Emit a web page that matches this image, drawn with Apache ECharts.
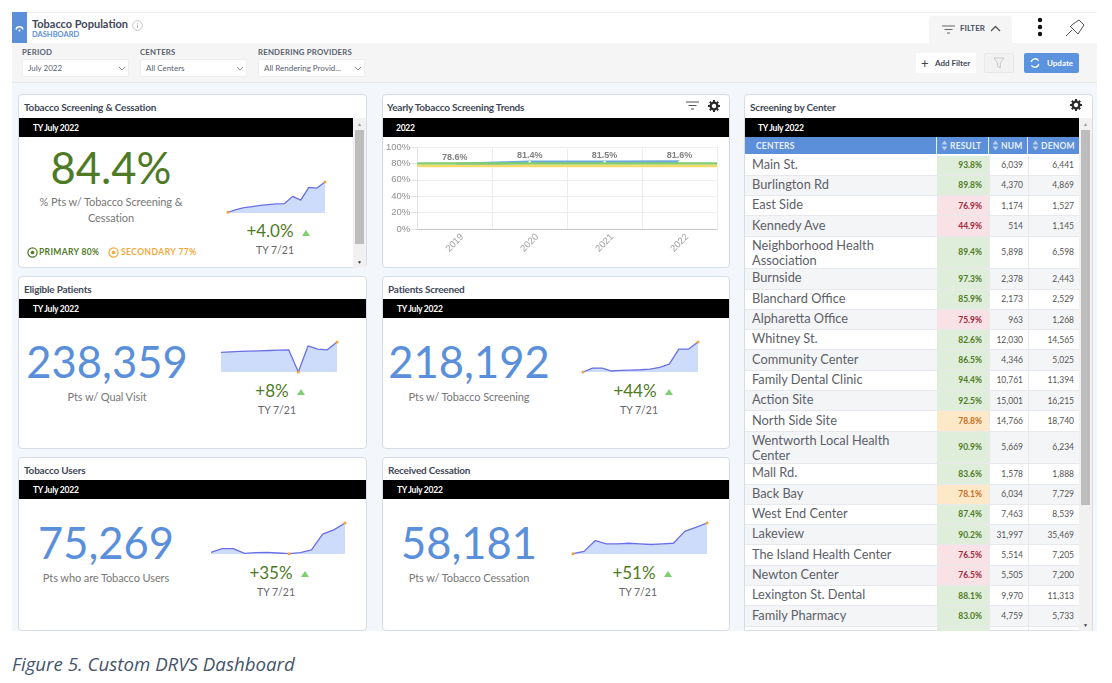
<!DOCTYPE html>
<html>
<head>
<meta charset="utf-8">
<title>Custom DRVS Dashboard</title>
<script src="https://cdn.jsdelivr.net/npm/echarts@6/dist/echarts.min.js"></script>
<style>
html, body { margin: 0; padding: 0; background: #fff; }
#page { position: relative; width: 1112px; height: 683px; overflow: hidden; font-family: Lato, "Open Sans", sans-serif; color: #555; }
#page div, #page svg { position: absolute; box-sizing: border-box; }
.txt { white-space: nowrap; line-height: 1; }
.mid { transform: translate(-50%, -50%); }
.lft { transform: translateY(-50%); }
.rgt { transform: translate(-100%, -50%); }
.panel { background: #fff; border: 1px solid #d6dde7; border-radius: 4px; }
.black { background: #000; }
.ptitle { font-size: 10px; font-weight: 700; color: #3f4858; letter-spacing: -.2px; }
.bartxt { font-size: 8.5px; font-weight: 700; color: #fff; letter-spacing: -.25px; }
.flabel { font-size: 7.8px; font-weight: 700; color: #596270; letter-spacing: .2px; }
.sel { background: #fff; border-radius: 2px; height: 18px; border: 1px solid #eceef0; }
.seltxt { font-size: 8px; color: #596270; }
.big { font-size: 43.5px; }
.sub { font-size: 11px; color: #777; letter-spacing: -.1px; }
.chg { font-size: 17px; color: #4f7a25; }
.ty { font-size: 10.5px; color: #666; }
.tri { width: 0; height: 0; border-left: 4px solid transparent; border-right: 4px solid transparent; border-bottom: 6px solid #7fcf70; }
.btn { border-radius: 2px; height: 20px; }
#rows .row { position: relative !important; display: flex; width: 334px; min-height: 20.3px; border-bottom: 1px solid #e7e9ed; }
#rows .row div { position: static !important; }
#rows .row:nth-child(even) { background: #f4f5f7; }
.cname { width: 192px; padding: 1.2px 30px 0 7px; font-size: 12.8px; line-height: 15.2px; color: #5c6068; }
.cres, .cnum, .cden { display: flex; align-items: center; justify-content: flex-end; font-size: 8.5px; color: #555; }
.cres { width: 52px; padding-right: 7px; font-weight: 700; }
.cnum { width: 39px; padding-right: 5px; border-left: 1px solid #e7e9ed; }
.cden { width: 51px; padding-right: 5px; border-left: 1px solid #e7e9ed; }
.good { background: #dfeeda; color: #4f7a25; }
.warn { background: #fde8c8; color: #c66f24; }
.bad { background: #f8e2e5; color: #a3283a; }
.th { font-size: 8.5px; font-weight: 700; color: #e8f0fb; letter-spacing: .2px; }
.caption { font-family: "Open Sans", sans-serif; font-style: italic; font-size: 18.7px; color: #44546a; }
</style>
</head>
<body>
<div id="page"></div>
<script>
// values
var trendYears = ["2019", "2020", "2021", "2022"];
var trendValues = [78.6, 81.4, 81.5, 81.6];
var primaryGoal = 80;
var secondaryGoal = 77;
var yTicks = [0, 20, 40, 60, 80, 100];

var kpiTitles = ["Tobacco Screening & Cessation", "Eligible Patients", "Patients Screened", "Tobacco Users", "Received Cessation"];
var kpiValues = ["84.4%", "238,359", "218,192", "75,269", "58,181"];
var kpiLabels = ["% Pts w/ Tobacco Screening &\nCessation", "Pts w/ Qual Visit", "Pts w/ Tobacco Screening", "Pts who are Tobacco Users", "Pts w/ Tobacco Cessation"];
var kpiChanges = ["+4.0%", "+8%", "+44%", "+35%", "+51%"];

var sparkScreening = [80.4, 80.75, 81.0, 81.15, 81.3, 81.4, 81.5, 81.55, 82.5, 82.0, 83.7, 83.6, 84.4];
var sparkEligible = [220700, 221800, 222350, 222900, 223450, 224000, 224550, 225100, 187600, 231700, 226200, 225100, 238359];
var sparkScreened = [151500, 160200, 160200, 153700, 155100, 155800, 156500, 158000, 161600, 168800, 202200, 202200, 218192];
var sparkUsers = [55750, 58200, 58200, 55100, 55500, 55750, 55300, 54850, 55500, 57300, 67800, 70700, 75269];
var sparkCessation = [38530, 40000, 46900, 44800, 44800, 45200, 44800, 44400, 44800, 45200, 52800, 55400, 58181];
var sparkFloors = [80.3, 187600, 151500, 54630, 38300];

var centers = ["Main St.", "Burlington Rd", "East Side", "Kennedy Ave", "Neighborhood Health Association", "Burnside", "Blanchard Office", "Alpharetta Office", "Whitney St.", "Community Center", "Family Dental Clinic", "Action Site", "North Side Site", "Wentworth Local Health Center", "Mall Rd.", "Back Bay", "West End Center", "Lakeview", "The Island Health Center", "Newton Center", "Lexington St. Dental", "Family Pharmacy"];
var results = ["93.8%", "89.8%", "76.9%", "44.9%", "89.4%", "97.3%", "85.9%", "75.9%", "82.6%", "86.5%", "94.4%", "92.5%", "78.8%", "90.9%", "83.6%", "78.1%", "87.4%", "90.2%", "76.5%", "76.5%", "88.1%", "83.0%"];
var nums = ["6,039", "4,370", "1,174", "514", "5,898", "2,378", "2,173", "963", "12,030", "4,346", "10,761", "15,001", "14,766", "5,669", "1,578", "6,034", "7,463", "31,997", "5,514", "5,505", "9,970", "4,759"];
var denoms = ["6,441", "4,869", "1,527", "1,145", "6,598", "2,443", "2,529", "1,268", "14,565", "5,025", "11,394", "16,215", "18,740", "6,234", "1,888", "7,729", "8,539", "35,469", "7,205", "7,200", "11,313", "5,733"];

var sparks = [sparkScreening, sparkEligible, sparkScreened, sparkUsers, sparkCessation];

// page layout, all in picture pixels
var kpiLayout = [
    { x: 18, y: 94, w: 349, h: 174, barW: 335, num: [111, 168], sub: [111, 200.5], spark: [228, 182, 97, 31], chg: [270, 230], tri: [306, 233], ty: [275, 250], color: "#4f7a25" },
    { x: 18, y: 276, w: 349, h: 173, num: [107, 362], sub: [107, 395.5], spark: [221, 342, 116, 30], chg: [272, 390], tri: [301, 392], ty: [277, 410] },
    { x: 382, y: 276, w: 348, h: 173, num: [469, 362], sub: [469, 395.5], spark: [583, 342, 115, 30], chg: [635, 390], tri: [669, 392], ty: [639, 410] },
    { x: 18, y: 457, w: 349, h: 174, num: [106, 543], sub: [106, 576.5], spark: [211, 523, 134, 31], chg: [271, 572], tri: [305, 574], ty: [276, 592] },
    { x: 382, y: 457, w: 348, h: 174, num: [469, 543], sub: [469, 576.5], spark: [573, 523, 134, 31], chg: [634, 572], tri: [668, 574], ty: [638, 592] }
];

var page = document.getElementById("page");

function box(cls, x, y, w, h, bg) {
    var d = document.createElement("div");
    d.className = cls;
    d.style.left = x + "px";
    d.style.top = y + "px";
    if (w != null) d.style.width = w + "px";
    if (h != null) d.style.height = h + "px";
    if (bg) d.style.background = bg;
    page.appendChild(d);
    return d;
}

function text(str, x, y, cls, anchor, color) {
    var d = box("txt " + (anchor || "lft") + " " + cls, x, y);
    d.textContent = str;
    if (color) d.style.color = color;
    return d;
}

function icon(x, y, w, h, inner) {
    var wrap = document.createElement("div");
    wrap.style.left = x + "px";
    wrap.style.top = y + "px";
    wrap.innerHTML = '<svg width="' + w + '" height="' + h + '" viewBox="0 0 ' + w + ' ' + h + '" fill="none">' + inner + "</svg>";
    page.appendChild(wrap);
}

function filterIcon(x, y, color) {
    icon(x, y, 13, 9, '<path d="M0 1H13M2.5 4.5H10.5M5 8H8" stroke="' + color + '" stroke-width="1.2"/>');
}

function gear(x, y) {
    icon(x, y, 12, 12, '<circle cx="6" cy="6" r="3.4" stroke="#2c2c2c" stroke-width="2.4"/>' +
        '<path d="M6 0V2M6 10V12M0 6H2M10 6H12M1.8 1.8L3.2 3.2M8.8 8.8L10.2 10.2M1.8 10.2L3.2 8.8M8.8 3.2L10.2 1.8" stroke="#2c2c2c" stroke-width="2"/>');
}

function caret(x, y) {
    icon(x, y, 8, 5, '<path d="M1 1L4 4L7 1" stroke="#8a8f96" stroke-width="1"/>');
}

function scrollbar(x, top, h, thumbTop, thumbH) {
    box("", x, top, 13, h, "#f1f1f1");
    box("", x + 2, thumbTop, 9, thumbH, "#bdbdbd");
    text("▲", x + 6.5, top + 6, "", "mid", "#9a9a9a").style.fontSize = "5px";
    text("▼", x + 6.5, top + h - 6, "", "mid", "#333").style.fontSize = "5px";
}

// --- header strip and filter bar
box("", 12, 12, 1085, 1, "#eef0f2");
box("", 12, 43, 1085, 39, "#f5f5f5");
box("", 12, 82, 1085, 1, "#e6e8ea");
box("", 12, 83, 1085, 548, "#f3f6fa");
box("", 12, 12, 15, 31, "#5b8fd9");
icon(15, 25, 9, 7, '<path d="M1 4.5A3.6 3.6 0 0 1 8 4.5" stroke="#fff" stroke-width="1.4"/><circle cx="4.5" cy="5.5" r="1" fill="#fff"/>');
text("Tobacco Population", 32, 23, "", "lft", "#3f4858").style.cssText += "font-size:11px;font-weight:700;";
text("DASHBOARD", 32, 35, "", "lft", "#5b8fd9").style.cssText += "font-size:7.5px;font-weight:700;";
icon(132, 20, 11, 11, '<circle cx="5.5" cy="5.5" r="4.8" stroke="#c2c5c9"/><path d="M5.5 3V3.8M5.5 4.8V8" stroke="#b0b4b9"/>');

box("", 929, 16, 83, 28, "#f5f5f5").style.borderRadius = "3px 3px 0 0";
filterIcon(942, 25, "#666");
text("FILTER", 960, 28, "", "lft", "#4a5260").style.cssText += "font-size:8px;font-weight:700;";
icon(990, 25, 11, 7, '<path d="M1 6L5.5 1.5L10 6" stroke="#555" stroke-width="1.3"/>');
icon(1037, 17, 6, 20, '<circle cx="3" cy="3" r="2.2" fill="#111"/><circle cx="3" cy="10" r="2.2" fill="#111"/><circle cx="3" cy="17" r="2.2" fill="#111"/>');
icon(1065, 19, 20, 18, '<path d="M1 17L7 11M5 7L13 15M8 5L14 1L19 6L15 12M8 5L6 7M15 12L13 15" stroke="#555" stroke-width="1"/>');

var filterLabels = ["PERIOD", "CENTERS", "RENDERING PROVIDERS"];
var filterValues = ["July 2022", "All Centers", "All Rendering Provid..."];
var filterX = [22, 140, 258];
filterLabels.forEach(function (lab, i) {
    text(lab, filterX[i], 53, "flabel");
    box("sel", filterX[i], 59, 107, 18);
    text(filterValues[i], filterX[i] + 6, 68, "seltxt");
    caret(filterX[i] + 96, 66);
});

box("btn", 916, 53, 60, 20, "#fff");
text("+", 921, 62.5, "", "lft", "#444").style.fontSize = "13px";
text("Add Filter", 935, 63, "", "lft", "#3f4858").style.cssText += "font-size:8px;font-weight:700;";
box("btn", 984, 53, 30, 20, "#f2f2f2").style.border = "1px solid #e8e8e8";
icon(993, 57, 12, 12, '<path d="M1 1H11L7.3 6V11L4.7 9.5V6Z" stroke="#c4c7ca"/>');
box("btn", 1024, 53, 55, 20, "#5b93de");
icon(1030, 58, 10, 10, '<path d="M8.6 2.8A4 4 0 0 0 1.2 4M1.4 7.2A4 4 0 0 0 8.8 6" stroke="#fff" stroke-width="1.3"/>');
text("Update", 1047, 63, "", "lft", "#fff").style.cssText += "font-size:8px;font-weight:700;";

// --- KPI panels
kpiLayout.forEach(function (p, i) {
    box("panel", p.x, p.y, p.w, p.h);
    text(kpiTitles[i], p.x + 6, p.y + 12.5, "ptitle");
    var barTop = i === 0 ? 118 : (i < 3 ? 299 : 480);
    box("black", p.x + 1, barTop, p.barW || p.w - 2, 19);
    text("TY July 2022", p.x + 15, barTop + 9.5, "bartxt");
    text(kpiValues[i], p.num[0], p.num[1], "big", "mid", p.color || "#5a8fdb");
    var lines = kpiLabels[i].split("\n");
    lines.forEach(function (l, k) {
        text(l, p.sub[0], p.sub[1] + k * 16, "sub", "mid");
    });
    text(kpiChanges[i], p.chg[0], p.chg[1], "chg", "mid");
    box("tri", p.tri[0] - 4, p.tri[1] - 3);
    text("TY 7/21", p.ty[0], p.ty[1], "ty", "mid");

    // sparkline, box is padded so the end markers don't get clipped
    var pad = 4, s = p.spark;
    var el = box("", s[0] - pad, s[1] - pad, s[2] + pad * 2, s[3] + pad * 2);
    var chart = echarts.init(el);
    chart.setOption({
        animation: false,
        grid: { left: pad, right: pad, top: pad, bottom: pad },
        xAxis: { type: "category", show: false, boundaryGap: false, data: sparks[i].map(function (v, n) { return n; }) },
        yAxis: { type: "value", show: false, min: sparkFloors[i], max: "dataMax" },
        series: [{
            type: "line",
            data: sparks[i],
            symbol: "none",
            silent: true,
            lineStyle: { color: "#6a6fe6", width: 1.3 },
            areaStyle: { color: "#cddcfa", opacity: 1 },
            markPoint: {
                symbol: "circle",
                symbolSize: 3,
                itemStyle: { color: "#f2a33a" },
                label: { show: false },
                data: [{ type: "min" }, { type: "max" }]
            }
        }]
    });
});

scrollbar(353, 118, 150, 130, 114);

text("PRIMARY 80%", 39, 252, "", "lft", "#4f7a25").style.cssText += "font-size:8.5px;font-weight:700;letter-spacing:.35px;";
icon(27, 247, 11, 11, '<circle cx="5.5" cy="5.5" r="4.6" stroke="#4f7a25" stroke-width="1.2"/><circle cx="5.5" cy="5.5" r="1.8" fill="#4f7a25"/>');
text("SECONDARY 77%", 121, 252, "", "lft", "#f2a93b").style.cssText += "font-size:8.5px;font-weight:700;letter-spacing:.45px;";
icon(108, 247, 11, 11, '<circle cx="5.5" cy="5.5" r="4.6" stroke="#f2a93b" stroke-width="1.2"/><circle cx="5.5" cy="5.5" r="1.8" fill="#f2a93b"/>');

// --- yearly trend
box("panel", 382, 94, 348, 174);
text("Yearly Tobacco Screening Trends", 387, 106.5, "ptitle");
filterIcon(686, 101, "#555");
gear(708, 100);
box("black", 383, 118, 346, 19);
text("2022", 396, 127.5, "bartxt");

var trendEl = box("", 383, 137, 346, 130);
var trendChart = echarts.init(trendEl);

function goalLine(y, color, width) {
    return {
        type: "line",
        data: [],
        z: 5,
        markLine: {
            silent: true,
            symbol: "none",
            label: { show: false },
            lineStyle: { color: color, width: width, type: "solid" },
            data: [{ yAxis: y }]
        }
    };
}

trendChart.setOption({
    animation: false,
    grid: { left: 32, right: 12, top: 10, bottom: 38 },
    xAxis: {
        type: "category",
        data: trendYears,
        axisLine: { lineStyle: { color: "#c4c7cc" } },
        axisTick: { length: 7, lineStyle: { color: "#e2e4e8" } },
        axisLabel: { rotate: 45, align: "center", color: "#a0a0a0", fontSize: 9.5, fontFamily: "Liberation Sans", margin: 14 },
        splitLine: { show: true, lineStyle: { color: "#ececee" } }
    },
    yAxis: {
        type: "value",
        min: yTicks[0],
        max: yTicks[yTicks.length - 1],
        interval: yTicks[1] - yTicks[0],
        axisLine: { show: true, lineStyle: { color: "#e2e4e8" } },
        axisTick: { show: true, length: 7, lineStyle: { color: "#e2e4e8" } },
        axisLabel: { color: "#8f8f8f", fontSize: 9.5, fontFamily: "Liberation Sans", formatter: "{value}%", margin: 7 },
        splitLine: { lineStyle: { color: "#f0f0f2" } }
    },
    series: [
        {
            type: "line",
            data: trendValues,
            z: 2,
            symbol: "circle",
            symbolSize: 3,
            itemStyle: { color: "#fff" },
            lineStyle: { color: "#6fa8dc", width: 3.5 },
            label: { show: true, position: "top", distance: 1, color: "#808080", fontSize: 9, fontWeight: "bold", fontFamily: "Liberation Sans", formatter: "{c}%" }
        },
        goalLine(primaryGoal, "#7fcf70", 2.6),
        goalLine(secondaryGoal, "#f5d96b", 2.4)
    ]
});

// --- table panel
box("panel", 744, 94, 349, 537).style.borderRadius = "4px 4px 0 0";
text("Screening by Center", 750, 106.5, "ptitle");
gear(1070, 99);
box("black", 745, 118, 334, 19);
text("TY July 2022", 758, 127.5, "bartxt");
box("", 745, 137, 334, 17, "#5b8fd9");
text("CENTERS", 756, 145.5, "th");
var headCols = [["RESULT", 950, 941], ["NUM", 1001, 992], ["DENOM", 1041, 1032]];
headCols.forEach(function (h) {
    text(h[0], h[1], 145.5, "th");
    icon(h[2], 140, 7, 11, '<path d="M3.5 0.5L6.5 4.5H0.5ZM3.5 10.5L6.5 6.5H0.5Z" fill="#b9cfef"/>');
});
box("", 936, 137, 1, 17, "#e8f0fb");
box("", 988, 137, 1, 17, "#e8f0fb");
box("", 1027, 137, 1, 17, "#e8f0fb");

function rating(res) {
    var v = parseFloat(res);
    if (v >= primaryGoal) return "good";
    if (v >= secondaryGoal) return "warn";
    return "bad";
}

var clip = box("", 745, 155.5, 334, 475.5);
clip.style.overflow = "hidden";
var rowsEl = document.createElement("div");
rowsEl.id = "rows";
rowsEl.style.left = "0";
rowsEl.style.top = "0";
clip.appendChild(rowsEl);
var html = "";
centers.forEach(function (name, i) {
    html += '<div class="row"><div class="cname">' + name + "</div>" +
        '<div class="cres ' + rating(results[i]) + '">' + results[i] + "</div>" +
        '<div class="cnum">' + nums[i] + "</div>" +
        '<div class="cden">' + denoms[i] + "</div></div>";
});
// next row is scrolled almost out of view, only its green cell shows
html += '<div class="row"><div class="cname"></div><div class="cres good"></div><div class="cnum"></div><div class="cden"></div></div>';
rowsEl.innerHTML = html;
scrollbar(1079, 118, 513, 130, 375);

box("", 0, 631, 1112, 52, "#fff");
text("Figure 5. Custom DRVS Dashboard", 12, 664, "caption");
</script>
</body>
</html>
